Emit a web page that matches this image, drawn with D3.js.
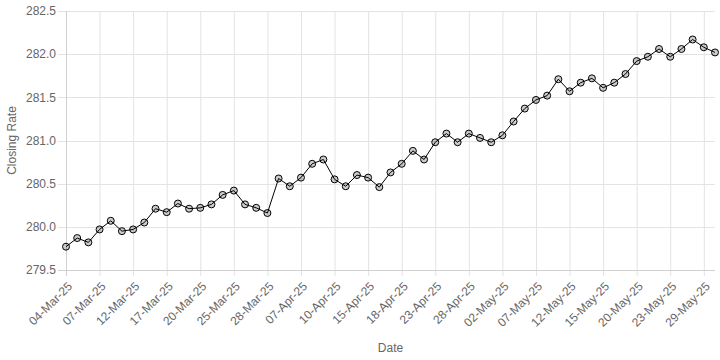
<!DOCTYPE html>
<html><head><meta charset="utf-8">
<script src="https://cdn.jsdelivr.net/npm/d3@7"></script>
<style>body{margin:0;background:#fff}svg{display:block}text{font-family:"Liberation Sans",Arial,Helvetica,sans-serif}</style>
</head><body><svg id="c" width="720" height="360"></svg>
<script>
const dates = ["04-Mar-25","05-Mar-25","06-Mar-25","07-Mar-25","10-Mar-25","11-Mar-25","12-Mar-25","13-Mar-25","14-Mar-25","17-Mar-25",
"18-Mar-25","19-Mar-25","20-Mar-25","21-Mar-25","24-Mar-25","25-Mar-25","26-Mar-25","27-Mar-25","28-Mar-25","03-Apr-25",
"04-Apr-25","07-Apr-25","08-Apr-25","09-Apr-25","10-Apr-25","11-Apr-25","14-Apr-25","15-Apr-25","16-Apr-25","17-Apr-25",
"18-Apr-25","21-Apr-25","22-Apr-25","23-Apr-25","24-Apr-25","25-Apr-25","28-Apr-25","29-Apr-25","30-Apr-25","02-May-25",
"05-May-25","06-May-25","07-May-25","08-May-25","09-May-25","12-May-25","13-May-25","14-May-25","15-May-25","16-May-25",
"19-May-25","20-May-25","21-May-25","22-May-25","23-May-25","26-May-25","27-May-25","29-May-25","30-May-25"];
const closingRate = [279.77,279.87,279.82,279.97,280.07,279.95,279.97,280.05,280.21,280.17,
280.27,280.21,280.22,280.26,280.37,280.42,280.26,280.22,280.16,280.56,
280.47,280.57,280.73,280.78,280.55,280.47,280.60,280.57,280.46,280.63,
280.73,280.88,280.78,280.98,281.08,280.98,281.08,281.03,280.98,281.06,
281.22,281.37,281.47,281.52,281.71,281.57,281.67,281.72,281.61,281.67,
281.77,281.92,281.97,282.06,281.97,282.06,282.17,282.08,282.02];
const yTicks = [279.5,280.0,280.5,281.0,281.5,282.0,282.5];
const labelEvery = 3;

const svg = d3.select("#c");
const L=66,R=715,T=11,B=270;
const x = d3.scalePoint().domain(dates).range([L,R]);
const y = d3.scaleLinear().domain([279.5,282.5]).range([B,T]);
const grid="#e3e3e3", txt="#666";

const shown = dates.filter((d,i)=>i%labelEvery===0);
svg.append("g").selectAll("line").data(shown).join("line")
  .attr("x1",d=>x(d)+0.5).attr("x2",d=>x(d)+0.5).attr("y1",T).attr("y2",B+6)
  .attr("stroke",grid).attr("stroke-width",1);
svg.append("g").selectAll("line").data(yTicks).join("line")
  .attr("x1",L-8).attr("x2",R).attr("y1",d=>Math.round(y(d))+0.5).attr("y2",d=>Math.round(y(d))+0.5)
  .attr("stroke",grid).attr("stroke-width",1);
svg.append("line").attr("x1",L+0.5).attr("x2",L+0.5).attr("y1",T).attr("y2",B+6).attr("stroke","#d0d0d0");
svg.append("line").attr("x1",L-8).attr("x2",R).attr("y1",Math.round(y(279.5))+0.5).attr("y2",Math.round(y(279.5))+0.5).attr("stroke","#d0d0d0");

svg.append("g").selectAll("text").data(yTicks).join("text")
  .attr("x",L-10).attr("y",d=>y(d)).attr("dy","0.35em").attr("text-anchor","end")
  .attr("font-size",12).attr("fill",txt).text(d=>d.toFixed(1));
svg.append("g").selectAll("text").data(shown).join("text")
  .attr("transform",d=>`translate(${x(d)+4},${B+14}) rotate(-45)`)
  .attr("dy","0.35em").attr("text-anchor","end")
  .attr("font-size",12).attr("fill",txt).text(d=>d);

svg.append("text").attr("transform",`translate(16,${(T+B)/2}) rotate(-90)`)
  .attr("text-anchor","middle").attr("font-size",12).attr("fill",txt).text("Closing Rate");
svg.append("text").attr("x",(L+R)/2).attr("y",352).attr("text-anchor","middle")
  .attr("font-size",12).attr("fill",txt).text("Date");

const line = d3.line().x((d,i)=>x(dates[i])).y(d=>y(d));
svg.append("path").datum(closingRate).attr("d",line).attr("fill","none").attr("stroke","#000").attr("stroke-width",1);
svg.append("g").selectAll("circle").data(closingRate).join("circle")
  .attr("cx",(d,i)=>x(dates[i])).attr("cy",d=>y(d)).attr("r",3.5)
  .attr("fill","rgba(0,0,0,0.2)").attr("stroke","#000").attr("stroke-width",1);
</script></body></html>
